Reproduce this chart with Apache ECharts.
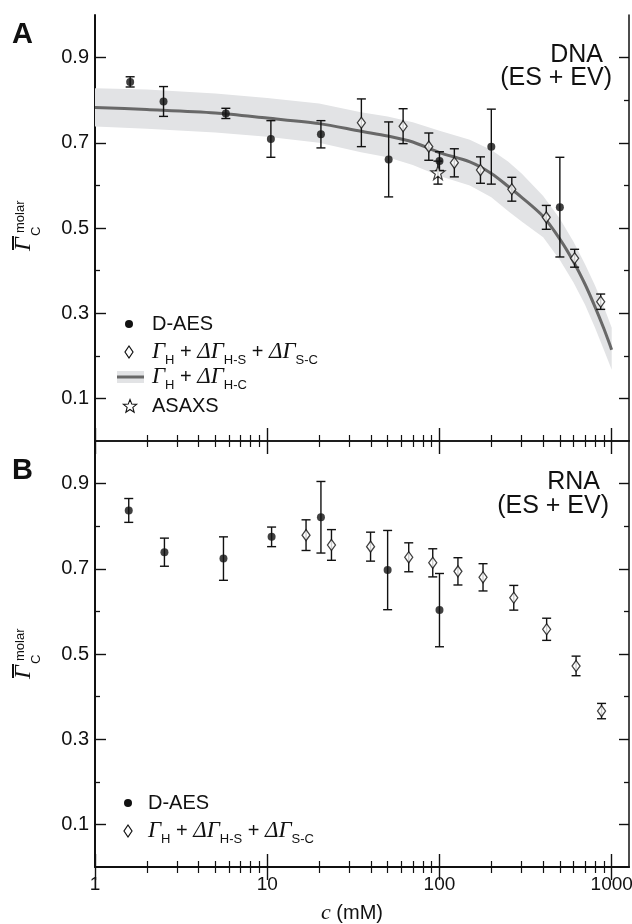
<!DOCTYPE html>
<html><head><meta charset="utf-8">
<script src="https://cdn.jsdelivr.net/npm/echarts@6/dist/echarts.min.js"></script>
<style>html,body{margin:0;padding:0;background:#fff}#c{width:632px;height:924px}</style>
</head><body><div id="c"></div>
<script>
// ---------------- data ----------------
const xTickValues = [1, 10, 100, 1000];
const xMinorTickValues = [2,3,4,5,6,7,8,9,20,30,40,50,60,70,80,90,200,300,400,500,600,700,800,900];
const yTickLabels = [0.1, 0.3, 0.5, 0.7, 0.9];
const yMinorTickValues = [0.2, 0.4, 0.6, 0.8];

// Panel A (DNA)
const dnaAesC   = [1.6, 2.5, 5.75, 10.5, 20.5, 50.7, 100, 200, 500];
const dnaAesY   = [0.843, 0.797, 0.769, 0.709, 0.720, 0.661, 0.657, 0.691, 0.549];
const dnaAesErr = [0.012, 0.035, 0.012, 0.043, 0.032, 0.088, 0.022, 0.088, 0.117];

const dnaCalcC   = [35.2, 61.5, 86.7, 122, 173, 263, 417, 609, 863];
const dnaCalcY   = [0.747, 0.739, 0.691, 0.653, 0.636, 0.591, 0.525, 0.429, 0.327];
const dnaCalcErr = [0.056, 0.041, 0.032, 0.033, 0.031, 0.028, 0.028, 0.021, 0.018];

const asaxsC   = [98];
const asaxsY   = [0.630];
const asaxsErr = [0.027];

const fitC     = [1, 2, 5, 10, 20, 35, 50, 70, 100, 150, 200, 250, 300, 400, 500, 600, 700, 800, 900, 1000];
const fitY     = [0.783, 0.778, 0.770, 0.758, 0.745, 0.727, 0.716, 0.702, 0.677, 0.655, 0.628, 0.598, 0.572, 0.527, 0.474, 0.421, 0.368, 0.315, 0.264, 0.214];
const fitUpper = [0.828, 0.825, 0.816, 0.805, 0.792, 0.772, 0.762, 0.748, 0.728, 0.707, 0.683, 0.656, 0.628, 0.575, 0.522, 0.468, 0.415, 0.365, 0.315, 0.266];
const fitLower = [0.738, 0.733, 0.724, 0.714, 0.700, 0.678, 0.666, 0.648, 0.622, 0.600, 0.572, 0.540, 0.515, 0.478, 0.425, 0.372, 0.320, 0.266, 0.214, 0.167];

// Panel B (RNA)
const rnaAesC   = [1.57, 2.53, 5.57, 10.6, 20.5, 50, 100];
const rnaAesY   = [0.837, 0.739, 0.724, 0.775, 0.821, 0.697, 0.603];
const rnaAesErr = [0.028, 0.033, 0.051, 0.023, 0.084, 0.093, 0.086];

const rnaCalcC   = [16.8, 23.6, 39.8, 66.3, 91.4, 128, 179, 270, 419, 621, 873];
const rnaCalcY   = [0.779, 0.756, 0.752, 0.727, 0.714, 0.694, 0.680, 0.632, 0.558, 0.472, 0.366];
const rnaCalcErr = [0.036, 0.036, 0.034, 0.034, 0.033, 0.032, 0.032, 0.029, 0.026, 0.023, 0.018];

// ---------------- chart ----------------
const SANS = '"Liberation Sans", Arial, Helvetica, sans-serif';
const SERIF = '"Liberation Serif", "Times New Roman", serif';
const INK = '#111';

const chart = echarts.init(document.getElementById('c'), null, {renderer: 'canvas'});

function zip3(a, b, c) { return a.map((v, i) => [v, b[i], c[i]]); }
function zip2(a, b) { return a.map((v, i) => [v, b[i]]); }

const XMIN = 1, XMAX = 1260;

function xAxes(grid, labels) {
  const base = {type: 'log', logBase: 10, min: XMIN, max: XMAX, gridIndex: grid,
                splitLine: {show: false}, minorTick: {show: false}, minorSplitLine: {show: false}};
  const mj = {show: true, inside: true, customValues: xTickValues, lineStyle: {color: INK, width: 1.4}};
  const mn = {show: true, inside: true, customValues: xMinorTickValues, lineStyle: {color: INK, width: 1.2}};
  const bottomMajor = Object.assign({}, base, {
    position: 'bottom',
    axisLine: {show: true, lineStyle: {color: INK, width: labels ? 2 : 1.5}},
    axisTick: Object.assign({}, mj, {length: 13}),
    axisLabel: {show: labels, customValues: xTickValues, formatter: v => String(v),
                fontFamily: SANS, fontSize: 19, color: INK, margin: 8}
  });
  if (labels) {
    Object.assign(bottomMajor, {
      name: '{i|c} (mM)', nameLocation: 'middle', nameGap: 35,
      nameTextStyle: {fontFamily: SANS, fontSize: 20, color: INK, padding: [0, 20, 0, 0],
        rich: {i: {fontFamily: SERIF, fontStyle: 'italic', fontSize: 22, color: INK}}}
    });
  }
  return [
    bottomMajor,
    Object.assign({}, base, {position: 'bottom', axisLine: {show: false},
      axisTick: Object.assign({}, mn, {length: 6}), axisLabel: {show: false}}),
    Object.assign({}, base, {position: 'top', axisLine: {show: true, lineStyle: {color: INK, width: 1.5}},
      axisTick: Object.assign({}, mj, {length: 13}), axisLabel: {show: false}}),
    Object.assign({}, base, {position: 'top', axisLine: {show: false},
      axisTick: Object.assign({}, mn, {length: 6}), axisLabel: {show: false}})
  ];
}

function yAxes(grid) {
  const base = {type: 'value', min: 0, max: 1, gridIndex: grid, splitLine: {show: false}};
  return [
    Object.assign({}, base, {position: 'left',
      axisLine: {show: true, lineStyle: {color: INK, width: 2}},
      axisTick: {show: true, inside: true, length: 11, customValues: yTickLabels, lineStyle: {color: INK, width: 1.4}},
      axisLabel: {show: true, customValues: yTickLabels, formatter: v => Number(v).toFixed(1),
                  fontFamily: SANS, fontSize: 20, color: INK, margin: 6}}),
    Object.assign({}, base, {position: 'left', axisLine: {show: false},
      axisTick: {show: true, inside: true, length: 5, customValues: yMinorTickValues, lineStyle: {color: INK, width: 1.3}},
      axisLabel: {show: false}}),
    Object.assign({}, base, {position: 'right',
      axisLine: {show: true, lineStyle: {color: INK, width: 1.5}},
      axisTick: {show: true, inside: true, length: 10, customValues: yTickLabels, lineStyle: {color: INK, width: 1.4}},
      axisLabel: {show: false}}),
    Object.assign({}, base, {position: 'right', axisLine: {show: false},
      axisTick: {show: true, inside: true, length: 5, customValues: yMinorTickValues, lineStyle: {color: INK, width: 1.3}},
      axisLabel: {show: false}})
  ];
}

function errRender(capHalf, color) {
  return function (params, api) {
    const c = api.value(0), y = api.value(1), e = api.value(2);
    const hi = api.coord([c, y + e]);
    const lo = api.coord([c, y - e]);
    const style = {stroke: color, lineWidth: 1.4, fill: null};
    return {type: 'group', children: [
      {type: 'line', shape: {x1: hi[0], y1: hi[1], x2: lo[0], y2: lo[1]}, style: style},
      {type: 'line', shape: {x1: hi[0] - capHalf, y1: hi[1], x2: hi[0] + capHalf, y2: hi[1]}, style: style},
      {type: 'line', shape: {x1: lo[0] - capHalf, y1: lo[1], x2: lo[0] + capHalf, y2: lo[1]}, style: style}
    ]};
  };
}

function errSeries(name, grid, c, y, e) {
  return {type: 'custom', name: name, xAxisIndex: grid * 4, yAxisIndex: grid * 4, z: 3,
    data: zip3(c, y, e), encode: {x: 0, y: 1}, renderItem: errRender(4.5, INK), silent: true, clip: false};
}

const STAR = 'path://M50,2 L61.2,36 L97,36 L68,57 L79,91 L50,70 L21,91 L32,57 L3,36 L38.8,36 Z';

function dots(name, grid, c, y) {
  return {type: 'scatter', name: name, xAxisIndex: grid * 4, yAxisIndex: grid * 4, z: 5,
    data: zip2(c, y), symbol: 'circle', symbolSize: 8, itemStyle: {color: INK}};
}
function diamonds(name, grid, c, y) {
  return {type: 'scatter', name: name, xAxisIndex: grid * 4, yAxisIndex: grid * 4, z: 5,
    data: zip2(c, y), symbol: 'diamond', symbolSize: [8, 11],
    itemStyle: {color: '#fff', borderColor: INK, borderWidth: 1.3}};
}

const bandSeries = {
  type: 'custom', name: 'ΓH + ΔΓH-C band', xAxisIndex: 0, yAxisIndex: 0, z: 1, silent: true,
  data: fitC.map((c, i) => [c, fitUpper[i], fitLower[i]]), encode: {x: 0, y: [1, 2]},
  renderItem: function (params, api) {
    if (params.dataIndex !== 0) return null;
    const up = fitC.map((c, i) => api.coord([c, fitUpper[i]]));
    const lo = fitC.map((c, i) => api.coord([c, fitLower[i]])).reverse();
    return {type: 'polygon', shape: {points: up.concat(lo)}, style: {fill: '#e2e3e5', stroke: null}};
  }
};

const fitSeries = {
  type: 'line', name: 'ΓH + ΔΓH-C', xAxisIndex: 0, yAxisIndex: 0, z: 2,
  data: zip2(fitC, fitY), smooth: 0.3, showSymbol: false, symbol: 'none',
  lineStyle: {color: '#686868', width: 3}
};

const series = [
  bandSeries,
  fitSeries,
  errSeries('DNA D-AES error', 0, dnaAesC, dnaAesY, dnaAesErr),
  errSeries('DNA calc error', 0, dnaCalcC, dnaCalcY, dnaCalcErr),
  errSeries('ASAXS error', 0, asaxsC, asaxsY, asaxsErr),
  dots('D-AES (DNA)', 0, dnaAesC, dnaAesY),
  diamonds('ΓH + ΔΓH-S + ΔΓS-C (DNA)', 0, dnaCalcC, dnaCalcY),
  {type: 'scatter', name: 'ASAXS', xAxisIndex: 0, yAxisIndex: 0, z: 4,
    data: zip2(asaxsC, asaxsY), symbol: STAR, symbolSize: 14,
    itemStyle: {color: '#fff', borderColor: INK, borderWidth: 1.2}},
  errSeries('RNA D-AES error', 1, rnaAesC, rnaAesY, rnaAesErr),
  errSeries('RNA calc error', 1, rnaCalcC, rnaCalcY, rnaCalcErr),
  dots('D-AES (RNA)', 1, rnaAesC, rnaAesY),
  diamonds('ΓH + ΔΓH-S + ΔΓS-C (RNA)', 1, rnaCalcC, rnaCalcY)
];

// ---------- text / legend graphics ----------
const richLegend = {
  i: {fontFamily: SERIF, fontStyle: 'italic', fontSize: 23, lineHeight: 30, fill: INK},
  s: {fontFamily: SANS, fontSize: 13, lineHeight: 14, verticalAlign: 'bottom', fill: INK},
  n: {fontFamily: SANS, fontSize: 20, lineHeight: 30, fill: INK}
};
function txt(x, y, text, font, align) {
  return {type: 'text', x: x, y: y, z: 10,
    style: {text: text, font: font, fill: INK, align: align || 'left', verticalAlign: 'middle',
            textAlign: align || 'left', textVerticalAlign: 'middle'}};
}
function richTxt(x, y, text) {
  return {type: 'text', x: x, y: y, z: 10,
    style: {text: text, rich: richLegend, fill: INK, font: '20px ' + SANS,
            align: 'left', verticalAlign: 'middle', textAlign: 'left', textVerticalAlign: 'middle'}};
}
function yLabel(x, y) {
  return {type: 'group', x: x, y: y, rotation: Math.PI / 2, z: 10, children: [
    {type: 'text', x: 0, y: 0, style: {text: 'Γ', font: 'italic 24px ' + SERIF, fill: INK,
      align: 'left', verticalAlign: 'middle', textAlign: 'left', textVerticalAlign: 'middle'}},
    {type: 'rect', shape: {x: 1, y: -12, width: 14, height: 2}, style: {fill: INK}},
    {type: 'text', x: 15, y: 12, style: {text: 'C', font: '13px ' + SANS, fill: INK,
      align: 'left', verticalAlign: 'middle', textAlign: 'left', textVerticalAlign: 'middle'}},
    {type: 'text', x: 18, y: -4, style: {text: 'molar', font: '13px ' + SANS, fill: INK,
      align: 'left', verticalAlign: 'middle', textAlign: 'left', textVerticalAlign: 'middle'}}
  ]};
}
function starPts(cx, cy, R, r) {
  const pts = [];
  for (let k = 0; k < 10; k++) {
    const a = -Math.PI / 2 + k * Math.PI / 5;
    const rad = k % 2 === 0 ? R : r;
    pts.push([cx + rad * Math.cos(a), cy + rad * Math.sin(a)]);
  }
  return pts;
}
const LEG_FONT = '20px ' + SANS;
const graphic = [
  txt(12, 35, 'A', 'bold 29px ' + SANS),
  txt(12, 471, 'B', 'bold 29px ' + SANS),
  txt(603, 55, 'DNA', '25px ' + SANS, 'right'),
  txt(612, 78, '(ES + EV)', '25px ' + SANS, 'right'),
  txt(600, 482, 'RNA', '25px ' + SANS, 'right'),
  txt(609, 506, '(ES + EV)', '25px ' + SANS, 'right'),
  yLabel(24, 251),
  yLabel(24, 679),
  // legend A
  {type: 'circle', shape: {cx: 129, cy: 324, r: 4}, style: {fill: INK}, z: 10},
  txt(152, 324, 'D-AES', LEG_FONT),
  {type: 'polygon', shape: {points: [[129, 346], [133, 352], [129, 358], [125, 352]]},
    style: {fill: '#fff', stroke: INK, lineWidth: 1.2}, z: 10},
  richTxt(152, 352, '{i|Γ}{s|H}{n| + }{i|ΔΓ}{s|H-S}{n| + }{i|ΔΓ}{s|S-C}'),
  {type: 'rect', shape: {x: 117, y: 371, width: 27, height: 12}, style: {fill: '#e2e3e5'}, z: 10},
  {type: 'rect', shape: {x: 117, y: 375.5, width: 27, height: 3}, style: {fill: '#686868'}, z: 10},
  richTxt(152, 377, '{i|Γ}{s|H}{n| + }{i|ΔΓ}{s|H-C}'),
  {type: 'polygon', z: 10, shape: {points: starPts(130, 406.5, 7, 3)},
    style: {fill: '#fff', stroke: INK, lineWidth: 1.1}},
  txt(152, 406, 'ASAXS', LEG_FONT),
  // legend B
  {type: 'circle', shape: {cx: 128, cy: 803, r: 4}, style: {fill: INK}, z: 10},
  txt(148, 803, 'D-AES', LEG_FONT),
  {type: 'polygon', shape: {points: [[128, 825], [132, 831], [128, 837], [124, 831]]},
    style: {fill: '#fff', stroke: INK, lineWidth: 1.2}, z: 10},
  richTxt(148, 831, '{i|Γ}{s|H}{n| + }{i|ΔΓ}{s|H-S}{n| + }{i|ΔΓ}{s|S-C}')
];

const option = {
  backgroundColor: '#fff',
  animation: false,
  grid: [
    {left: 95, top: 15, width: 534, height: 426, containLabel: false, outerBoundsMode: 'none'},
    {left: 95, top: 441, width: 534, height: 426, containLabel: false, outerBoundsMode: 'none'}
  ],
  xAxis: xAxes(0, false).concat(xAxes(1, true)),
  yAxis: yAxes(0).concat(yAxes(1)),
  series: series,
  graphic: graphic
};
chart.setOption(option);
</script>
</body></html>
